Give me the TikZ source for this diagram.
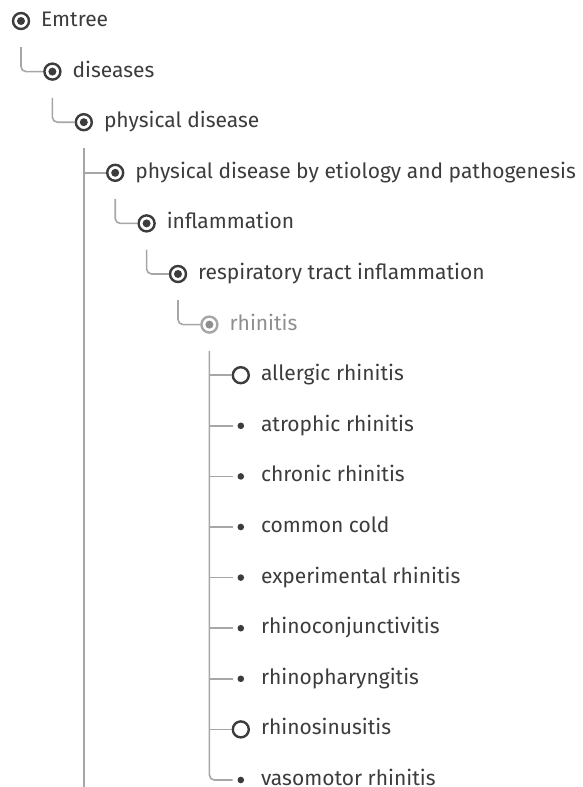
\documentclass[tikz,border=0pt]{standalone}
\usepackage{fontspec}
\setmainfont{Fira Sans}
\usepackage{tikz}
\usetikzlibrary{positioning,calc}
\definecolor{ink}{HTML}{3C3C3C}
\definecolor{wire}{HTML}{A6A6A6}
\definecolor{faded}{HTML}{8E8E8E}
\tikzset{
    bull/.style={circle,draw=ink,line width=2.4pt,minimum size=16pt,inner sep=0pt,
        path picture={\fill[ink] (path picture bounding box.center) circle (4pt);}},
    fadedbull/.style={bull,draw=wire,
        path picture={\fill[faded] (path picture bounding box.center) circle (4pt);}},
    ring/.style={circle,draw=ink,line width=2.4pt,minimum size=16pt,inner sep=0pt},
    leaf/.style={circle,minimum size=16pt,inner sep=0pt,
        path picture={\fill[ink] (path picture bounding box.center) circle (3.3pt);}},
    lbl/.style={anchor=base west,inner sep=0pt,text=ink,font=\fontsize{21}{24}\selectfont},
    conn/.style={draw=wire,line width=1.6pt,rounded corners=5pt}
}
\begin{document}
\begin{tikzpicture}[x=31.4pt,y=-50.6pt]
    \useasboundingbox (-21pt,21pt) rectangle (562pt,-766pt);
    % ancestors
    \node[bull] (em) at (0,0) {};
    \node[bull] (dis) at (1,1) {};
    \node[bull] (phys) at (2,2) {};
    \node[bull] (etio) at (3,3) {};
    \node[bull] (infl) at (4,4) {};
    \node[bull] (resp) at (5,5) {};
    \node[fadedbull] (rhin) at (6,6) {};
    % children of rhinitis
    \node[ring] (all) at (7,7) {};
    \node[leaf] (atro) at (7,8) {};
    \node[leaf] (chro) at (7,9) {};
    \node[leaf] (cold) at (7,10) {};
    \node[leaf] (expe) at (7,11) {};
    \node[leaf] (conj) at (7,12) {};
    \node[leaf] (phar) at (7,13) {};
    \node[ring] (sinu) at (7,14) {};
    \node[leaf] (vaso) at (7,15) {};
    \coordinate (bottom) at (2,15.14);
    % labels
    \node[lbl] (emL) at ([xshift=20pt,yshift=-5.5pt]em.center) {Emtree};
    \node[lbl] (disL) at ([xshift=20pt,yshift=-5.5pt]dis.center) {diseases};
    \node[lbl] (physL) at ([xshift=20pt,yshift=-5.5pt]phys.center) {physical disease};
    \node[lbl] (etioL) at ([xshift=20pt,yshift=-5.5pt]etio.center) {physical disease by etiology and pathogenesis};
    \node[lbl] (inflL) at ([xshift=20pt,yshift=-5.5pt]infl.center) {inflammation};
    \node[lbl] (respL) at ([xshift=20pt,yshift=-5.5pt]resp.center) {respiratory tract inflammation};
    \node[lbl,text=faded] (rhinL) at ([xshift=20pt,yshift=-5.5pt]rhin.center) {rhinitis};
    \node[lbl] (allL) at ([xshift=20pt,yshift=-5.5pt]all.center) {allergic rhinitis};
    \node[lbl] (atroL) at ([xshift=20pt,yshift=-5.5pt]atro.center) {atrophic rhinitis};
    \node[lbl] (chroL) at ([xshift=20pt,yshift=-5.5pt]chro.center) {chronic rhinitis};
    \node[lbl] (coldL) at ([xshift=20pt,yshift=-5.5pt]cold.center) {common cold};
    \node[lbl] (expeL) at ([xshift=20pt,yshift=-5.5pt]expe.center) {experimental rhinitis};
    \node[lbl] (conjL) at ([xshift=20pt,yshift=-5.5pt]conj.center) {rhinoconjunctivitis};
    \node[lbl] (pharL) at ([xshift=20pt,yshift=-5.5pt]phar.center) {rhinopharyngitis};
    \node[lbl] (sinuL) at ([xshift=20pt,yshift=-5.5pt]sinu.center) {rhinosinusitis};
    \node[lbl] (vasoL) at ([xshift=20pt,yshift=-5.5pt]vaso.center) {vasomotor rhinitis};
    % connectors
    \draw[conn] ([yshift=-17pt]em.south) |- (dis.west);
    \draw[conn] ([yshift=-17pt]dis.south) |- (phys.west);
    \draw[conn] ([yshift=-17pt]phys.south) -- (bottom);
    \draw[conn] (etio.west) -- (etio.west -| phys.south);
    \draw[conn] ([yshift=-17pt]etio.south) |- (infl.west);
    \draw[conn] ([yshift=-17pt]infl.south) |- (resp.west);
    \draw[conn] ([yshift=-17pt]resp.south) |- (rhin.west);
    \draw[conn] ([yshift=-17pt]rhin.south) |- (vaso.west);
    \foreach \n in {all,atro,chro,cold,expe,conj,phar,sinu}
        \draw[conn] (\n.west) -- (\n.west -| rhin.south);
\end{tikzpicture}
\end{document}
